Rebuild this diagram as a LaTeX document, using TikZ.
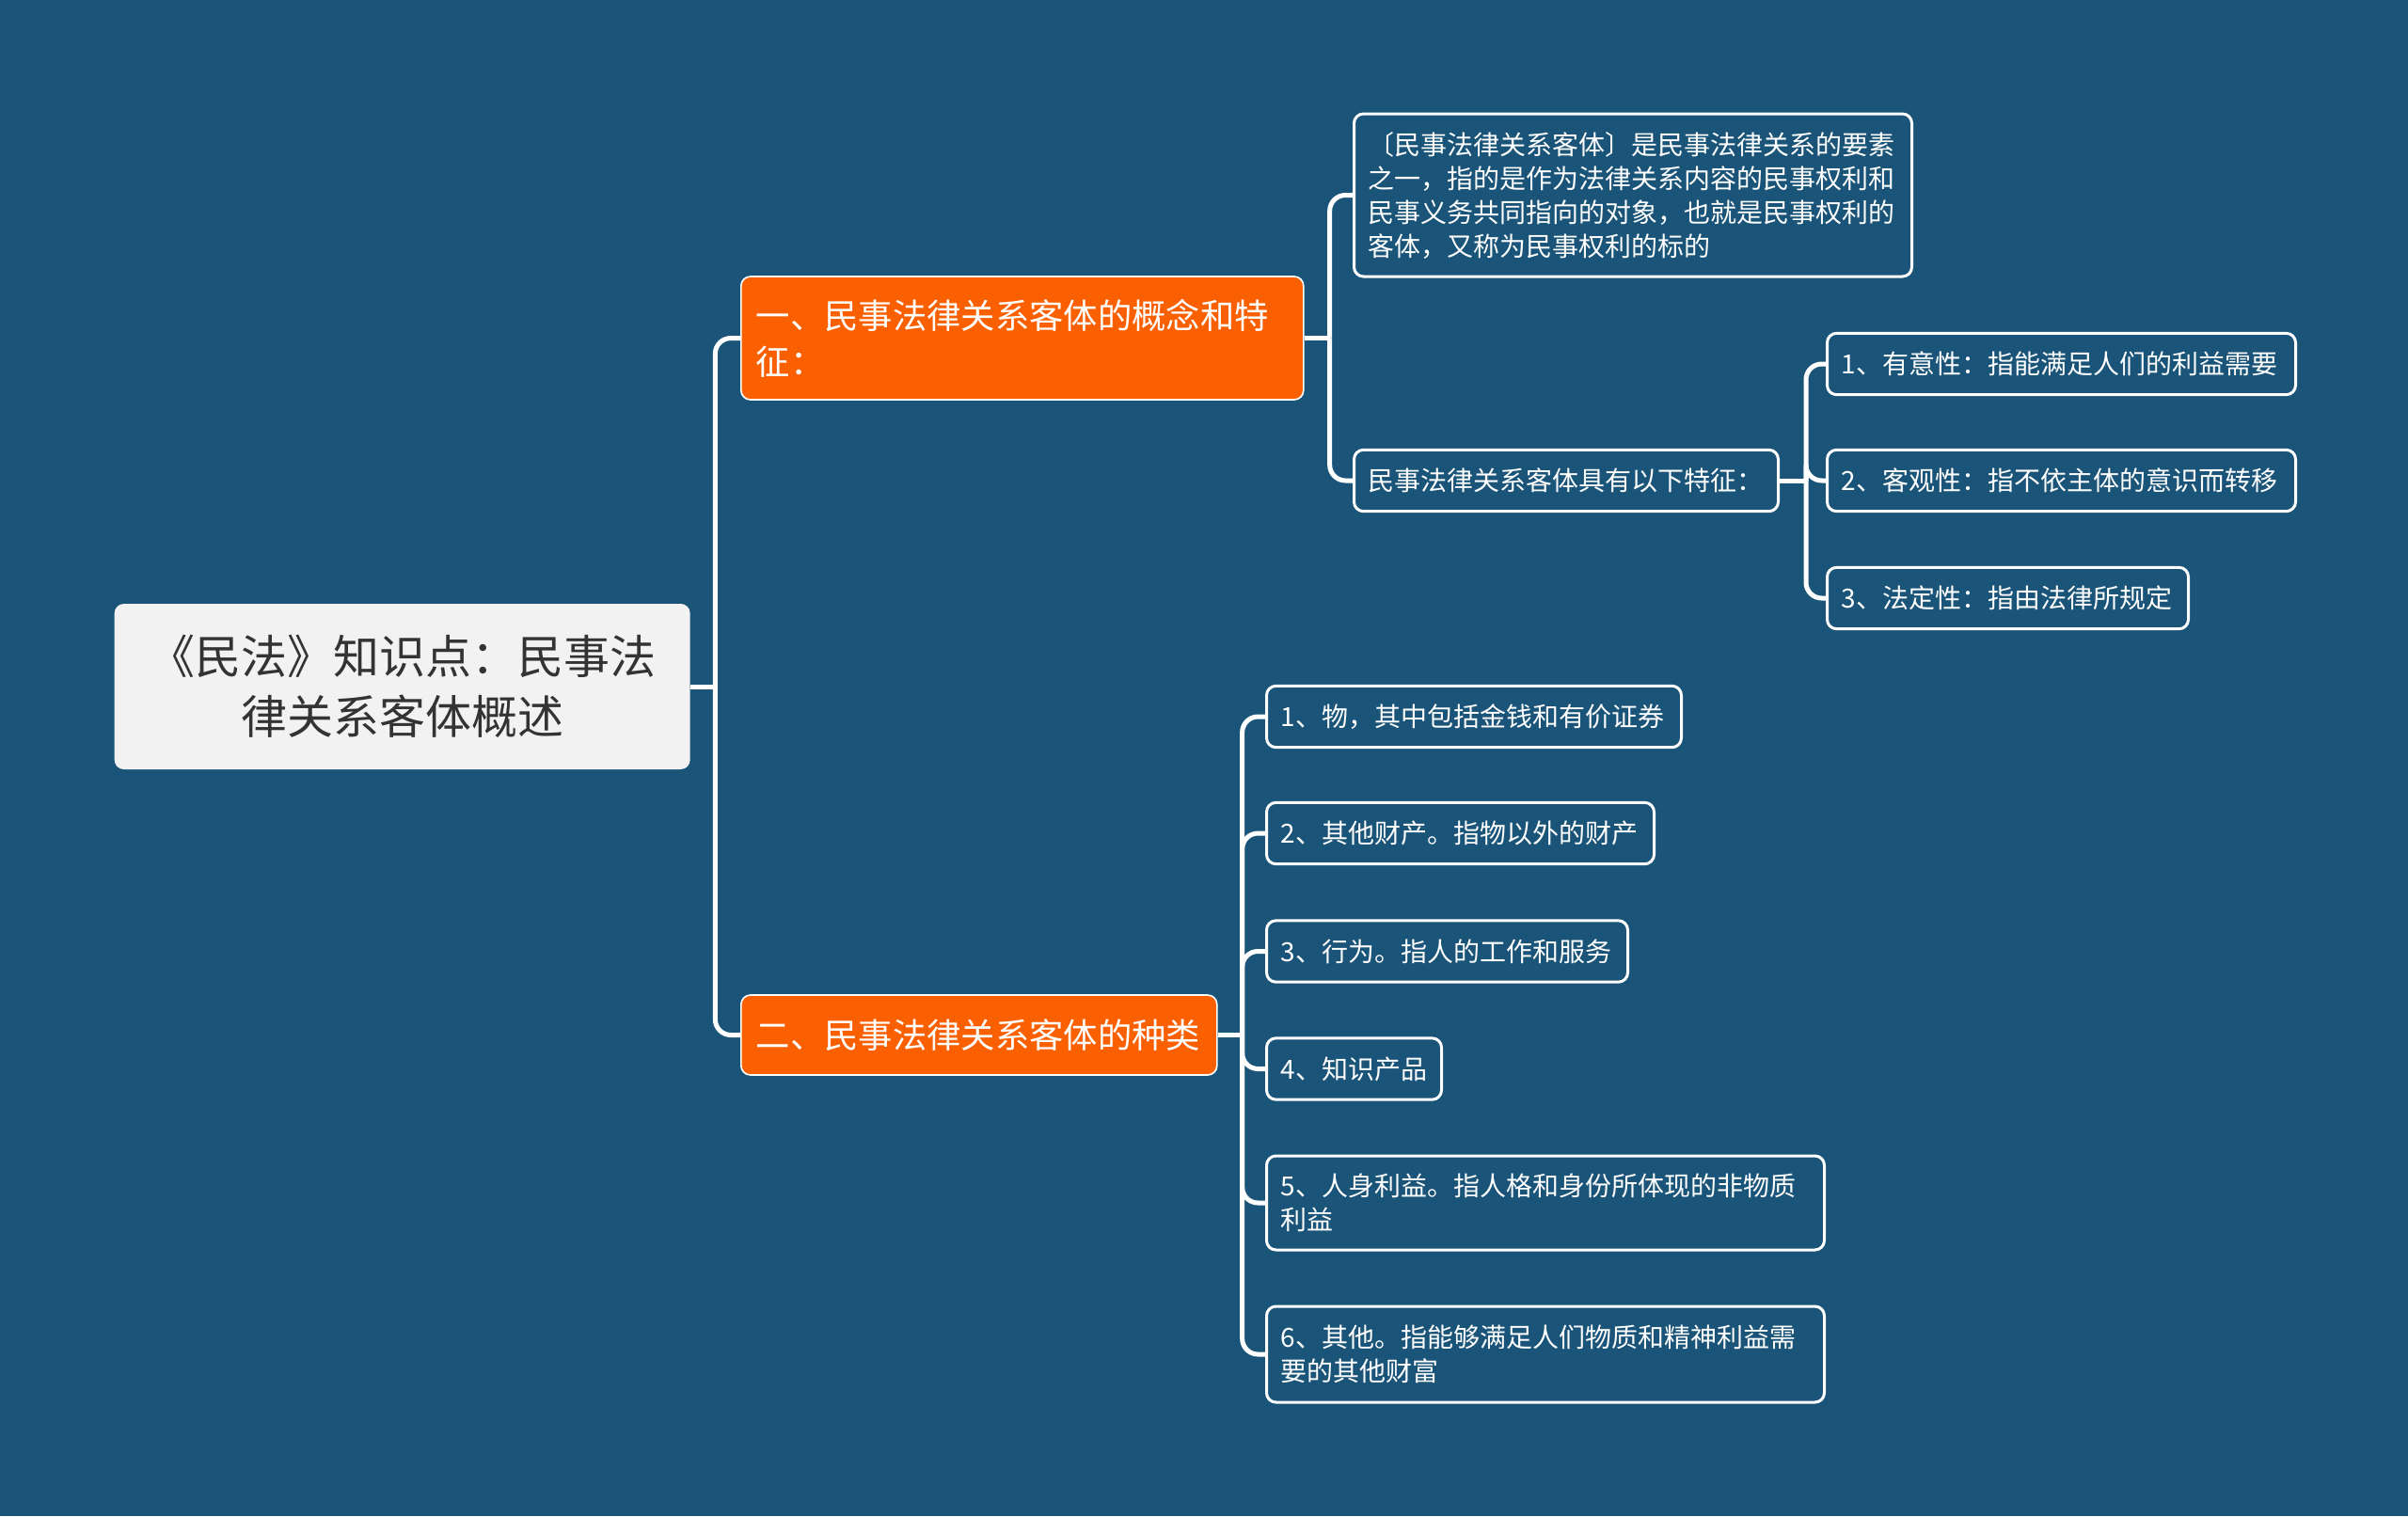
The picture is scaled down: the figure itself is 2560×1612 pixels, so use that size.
\documentclass[tikz,border=0pt]{standalone}
\usepackage{fontspec}
\setmainfont{Noto Sans CJK SC}
\definecolor{bgblue}{HTML}{1A5478}
\definecolor{topicorange}{HTML}{FA5F00}
\definecolor{rootgray}{HTML}{F2F2F2}
\definecolor{roottext}{HTML}{333333}
\tikzset{
  link/.style={draw=white, line width=1.5pt, rounded corners=5pt},
  rootbox/.style={fill=rootgray, rounded corners=3pt, text=roottext, align=center,
    font=\fontsize{14.7}{19.1}\selectfont, minimum width=183.6pt, minimum height=52.8pt, anchor=west},
  topic/.style={fill=topicorange, draw=white, line width=0.5pt, rounded corners=3pt, text=white,
    font=\fontsize{10.9}{14.7}\selectfont, align=left, inner xsep=4.8pt, inner ysep=0pt,
    text width=#1, anchor=west},
  leaf/.style={draw=white, line width=0.9pt, rounded corners=3pt, text=white,
    font=\fontsize{8.4}{10.8}\selectfont, align=left, inner xsep=4.6pt, inner ysep=0pt,
    text width=#1, minimum height=19.6pt, anchor=west},
}
\begin{document}
\begin{tikzpicture}[x=0.3pt, y=-0.3pt]
\fill[bgblue] (0,0) rectangle (2560,1612);
\useasboundingbox (0,0) rectangle (2560,1612);

\node[rootbox] (root) at (121,730) {《民法》知识点：民事法\\律关系客体概述};

\node[topic=169.8pt, minimum height=39.3pt] (concept) at (787,359.5)
  {一、民事法律关系客体的概念和特\\征：};
\node[topic=142.2pt, minimum height=25.5pt] (kinds) at (787,1100.5)
  {二、民事法律关系客体的种类};

\node[leaf=168.7pt, minimum height=51.9pt] (define) at (1438,207.5)
  {〔民事法律关系客体〕是民事法律关系的要素\\之一，指的是作为法律关系内容的民事权利和\\民事义务共同指向的对象，也就是民事权利的\\客体，又称为民事权利的标的};
\node[leaf=126.1pt] (traits) at (1438,511) {民事法律关系客体具有以下特征：};

\node[leaf=140.2pt] (trait1) at (1941,387) {1、有意性：指能满足人们的利益需要};
\node[leaf=140.2pt] (trait2) at (1941,511) {2、客观性：指不依主体的意识而转移};
\node[leaf=106pt] (trait3) at (1941,636) {3、法定性：指由法律所规定};

\node[leaf=123.1pt] (kind1) at (1345,762) {1、物，其中包括金钱和有价证券};
\node[leaf=114.4pt] (kind2) at (1345,886) {2、其他财产。指物以外的财产};
\node[leaf=106pt] (kind3) at (1345,1011.5) {3、行为。指人的工作和服务};
\node[leaf=46.6pt] (kind4) at (1345,1136.5) {4、知识产品};
\node[leaf=168.7pt, minimum height=30pt] (kind5) at (1345,1279)
  {5、人身利益。指人格和身份所体现的非物质\\利益};
\node[leaf=168.7pt, minimum height=30.6pt] (kind6) at (1345,1440)
  {6、其他。指能够满足人们物质和精神利益需\\要的其他财富};

\path (root.east) ++(26,0) coordinate (root-j);
\path (concept.east) ++(27,0) coordinate (concept-j);
\path (traits.east) ++(28,0) coordinate (traits-j);
\path (kinds.east) ++(26,0) coordinate (kinds-j);

\draw[link] (root.east) -- (root-j);
\draw[link] (root-j) |- (concept.west);
\draw[link] (root-j) |- (kinds.west);

\draw[link] (concept.east) -- (concept-j);
\draw[link] (concept-j) |- (define.west);
\draw[link] (concept-j) |- (traits.west);

\draw[link] (traits.east) -- (traits-j);
\foreach \t in {trait1,trait2,trait3}
  \draw[link] (traits-j) |- (\t.west);

\draw[link] (kinds.east) -- (kinds-j);
\foreach \k in {kind1,kind2,kind3,kind4,kind5,kind6}
  \draw[link] (kinds-j) |- (\k.west);
\end{tikzpicture}
\end{document}
